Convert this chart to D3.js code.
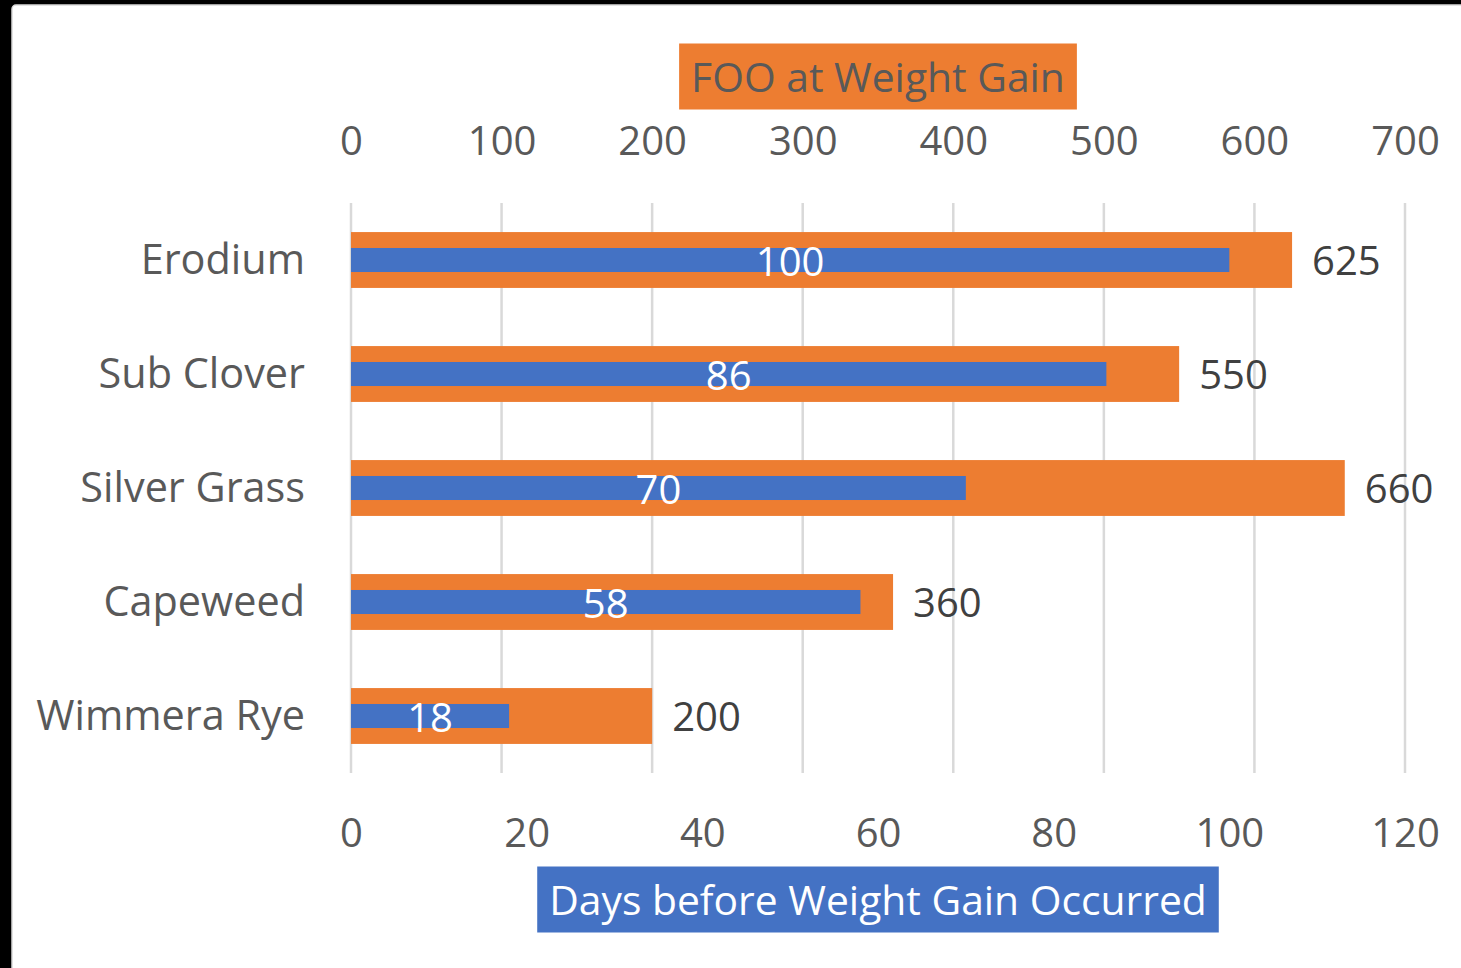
<!DOCTYPE html>
<html>
<head>
<meta charset="utf-8">
<script src="https://cdn.jsdelivr.net/npm/d3@7"></script>
<style>
  body { margin: 0; background: #000; }
  svg { display: block; font-family: "Open Sans", sans-serif; }
</style>
</head>
<body>
<svg id="chart" width="1461" height="968"></svg>
<script>
// data
var categories = ['Erodium', 'Sub Clover', 'Silver Grass', 'Capeweed', 'Wimmera Rye'];
var foo = [625, 550, 660, 360, 200];          // FOO at Weight Gain (top axis)
var days = [100, 86, 70, 58, 18];             // Days before weight gain (bottom axis)
var topTicks = [0, 100, 200, 300, 400, 500, 600, 700];
var bottomTicks = [0, 20, 40, 60, 80, 100, 120];

var svg = d3.select('#chart');
var width = 1461;
var height = 968;
var margin_left = 351;
var plot_right = 1405;
var plot_top = 203;
var plot_bottom = 773;

var orange = '#ED7D31';
var blue = '#4472C4';
var grey_text = '#595959';

// background card (black frame on left/top like the screenshot)
svg.append('rect').attr('width', width).attr('height', height).attr('fill', '#000');
svg.append('rect')
    .attr('x', 12).attr('y', 5)
    .attr('width', width + 20).attr('height', height + 20)
    .attr('rx', 4)
    .attr('fill', '#fff')
    .attr('stroke', '#d9d9d9').attr('stroke-width', 1.5);

var x_foo = d3.scaleLinear().domain([0, 700]).range([margin_left, plot_right]);
var x_days = d3.scaleLinear().domain([0, 120]).range([margin_left, plot_right]);
var y = d3.scaleBand().domain(categories).range([plot_top, plot_bottom])
    .paddingInner(0.51).paddingOuter(0.255);

var rows = categories.map(function(c, i) { return {cat: c, foo: foo[i], days: days[i]}; });

// grid (follows the top axis ticks)
svg.append('g').selectAll('line').data(topTicks).enter().append('line')
    .attr('x1', function(d) { return x_foo(d); })
    .attr('x2', function(d) { return x_foo(d); })
    .attr('y1', plot_top).attr('y2', plot_bottom)
    .attr('stroke', '#d9d9d9').attr('stroke-width', 2.5);

// axes
var style_axis = function(selection, size) {
    selection.select('.domain').remove();
    selection.selectAll('.tick line').remove();
    selection.selectAll('.tick text')
        .attr('y', 0).attr('dy', 0)
        .attr('fill', grey_text)
        .style('font-size', (size || 40) + 'px')
        .style('font-family', '"Open Sans", sans-serif');
};

svg.append('g').attr('transform', 'translate(0,155)')
    .call(d3.axisTop(x_foo).tickValues(topTicks).tickSize(0).tickPadding(0))
    .call(style_axis);

svg.append('g').attr('transform', 'translate(0,847)')
    .call(d3.axisBottom(x_days).tickValues(bottomTicks).tickSize(0).tickPadding(0))
    .call(style_axis);

svg.append('g').attr('transform', 'translate(305,0)')
    .call(d3.axisLeft(y).tickSize(0).tickPadding(0))
    .call(style_axis, 41.4)
    .call(function(selection) {
        selection.selectAll('.tick text').attr('dy', 14);
    });

// orange bars (FOO)
svg.append('g').selectAll('rect').data(rows).enter().append('rect')
    .attr('x', x_foo(0))
    .attr('y', function(d) { return y(d.cat); })
    .attr('width', function(d) { return x_foo(d.foo) - x_foo(0); })
    .attr('height', y.bandwidth())
    .attr('fill', orange);

// blue bars (days)
var blue_h = y.bandwidth() * 0.43;
svg.append('g').selectAll('rect').data(rows).enter().append('rect')
    .attr('x', x_days(0))
    .attr('y', function(d) { return y(d.cat) + (y.bandwidth() - blue_h) / 2; })
    .attr('width', function(d) { return x_days(d.days) - x_days(0); })
    .attr('height', blue_h)
    .attr('fill', blue);

// labels
svg.append('g').selectAll('text').data(rows).enter().append('text')
    .attr('x', function(d) { return x_foo(d.foo) + 20; })
    .attr('y', function(d) { return y(d.cat) + y.bandwidth() / 2 + 15; })
    .attr('fill', '#404040')
    .style('font-size', '40px')
    .text(function(d) { return d.foo; });

svg.append('g').selectAll('text').data(rows).enter().append('text')
    .attr('x', function(d) { return (x_days(d.days) + x_days(0)) / 2; })
    .attr('y', function(d) { return y(d.cat) + y.bandwidth() / 2 + 16; })
    .attr('text-anchor', 'middle')
    .attr('fill', '#fff')
    .style('font-size', '40px')
    .text(function(d) { return d.days; });

// axis titles in coloured boxes
var boxed_title = function(label, cy, fill, color) {
    var g = svg.append('g');
    var rect = g.append('rect').attr('fill', fill);
    var t = g.append('text')
        .attr('x', (margin_left + plot_right) / 2)
        .attr('y', cy + 15)
        .attr('text-anchor', 'middle')
        .attr('fill', color)
        .style('font-size', '40.8px')
        .text(label);
    var bb = t.node().getBBox();
    rect.attr('x', bb.x - 12).attr('width', bb.width + 24)
        .attr('y', cy - 33).attr('height', 66);
};
boxed_title('FOO at Weight Gain', 76.5, orange, grey_text);
boxed_title('Days before Weight Gain Occurred', 899.5, blue, '#fff');
</script>
</body>
</html>
